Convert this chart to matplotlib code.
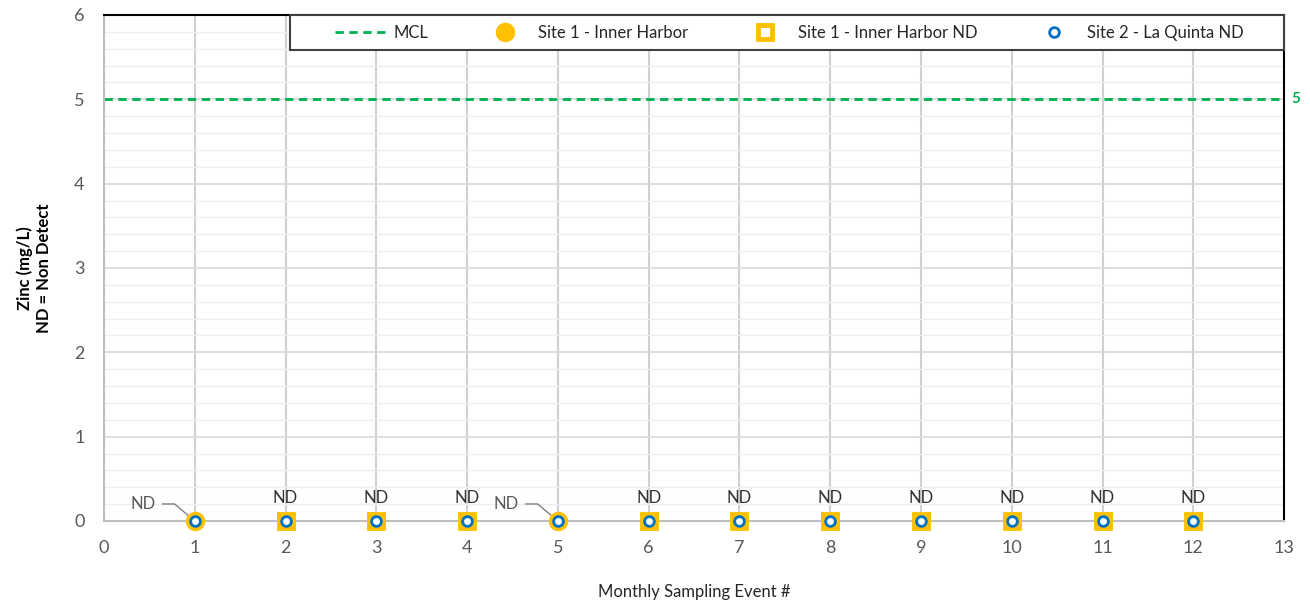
import matplotlib.pyplot as plt
from matplotlib.ticker import MultipleLocator
from matplotlib.patches import Rectangle

plt.rcParams['font.family'] = ['Lato', 'DejaVu Sans']

# data
events = [1, 2, 3, 4, 5, 6, 7, 8, 9, 10, 11, 12]
site1_det_events = [1, 5]
site1_det_vals = [0.0, 0.0]
site1_nd_events = [2, 3, 4, 6, 7, 8, 9, 10, 11, 12]
site1_nd_vals = [0, 0, 0, 0, 0, 0, 0, 0, 0, 0]
site2_nd_vals = [0, 0, 0, 0, 0, 0, 0, 0, 0, 0, 0, 0]
mcl = 5
xticks = list(range(0, 14))
yticks = [0, 1, 2, 3, 4, 5, 6]

orange = '#FFC000'
blue = '#0070C0'
green = '#00B050'
grey_txt = '#595959'

fig = plt.figure(figsize=(13.1, 6.06), dpi=100)
ax = fig.add_axes([0.0794, 0.1403, 0.9008, 0.8350])

ax.set_xlim(0, 13)
ax.set_ylim(0, 6)
ax.set_xticks(xticks)
ax.set_yticks(yticks)
ax.yaxis.set_minor_locator(MultipleLocator(0.2))
ax.grid(axis='x', which='major', color='#d0d0d0', lw=1.5)
ax.grid(axis='y', which='major', color='#d9d9d9', lw=1.2)
ax.grid(axis='y', which='minor', color='#eeeeee', lw=1.0)
ax.set_axisbelow(True)
ax.tick_params(which='both', length=0, labelsize=13, colors=grey_txt)
ax.tick_params(axis='x', pad=14)
ax.tick_params(axis='y', pad=14)

for s in ['left', 'bottom']:
    ax.spines[s].set_color('#bfbfbf')
    ax.spines[s].set_linewidth(1.5)
for s in ['top', 'right']:
    ax.spines[s].set_color('black')
    ax.spines[s].set_linewidth(1.5)

ax.axhline(mcl, color=green, ls=(0, (3, 2)), lw=2, label='MCL', zorder=2)
ax.text(1.006, mcl, str(mcl), transform=ax.get_yaxis_transform(), color=green,
        fontsize=11, fontweight='bold', va='center', ha='left')

ax.plot(site1_det_events, site1_det_vals, 'o', ms=13, color=orange, mec=orange,
        ls='none', label='Site 1 - Inner Harbor', zorder=4, clip_on=False)
ax.plot(site1_nd_events, site1_nd_vals, 's', ms=10, mfc='white', mec=orange, mew=3.5,
        ls='none', label='Site 1 - Inner Harbor ND', zorder=4, clip_on=False)
ax.plot(events, site2_nd_vals, 'o', ms=7, mfc='white', mec=blue, mew=2,
        ls='none', label='Site 2 - La Quinta ND', zorder=5, clip_on=False)

for x, v in zip(site1_nd_events, site1_nd_vals):
    ax.annotate('ND', (x, v), xytext=(0, 15), textcoords='offset pixels',
                ha='center', va='bottom', fontsize=12, color='#333333')
for x, v in zip(site1_det_events, site1_det_vals):
    ax.annotate('ND', (x, v), xytext=(-52, 17), textcoords='offset pixels',
                ha='center', va='center', fontsize=12, color=grey_txt,
                arrowprops=dict(arrowstyle='-', color='#808080', lw=1,
                                shrinkA=3, shrinkB=2,
                                connectionstyle='angle,angleA=0,angleB=140,rad=0'))

ax.set_xlabel('Monthly Sampling Event #', fontsize=12, color='#262626', labelpad=20)
ax.set_ylabel('Zinc (mg/L)\nND = Non Detect', fontsize=12, fontweight='bold',
              color='black', labelpad=16)

# legend frame
ax.add_patch(Rectangle((0.1576, 0.931), 0.8424, 0.069, transform=ax.transAxes,
                       facecolor='white', edgecolor='#404040', lw=1.5,
                       zorder=6, clip_on=False))
leg = ax.legend(loc='center left', bbox_to_anchor=(0.1958, 0.9644, 0.770, 0.0), mode='expand',
                ncol=4, fontsize=12, frameon=False, borderaxespad=0, borderpad=0,
                handlelength=3, handletextpad=0.5)
leg.set_zorder(7)
for t in leg.get_texts():
    t.set_color('#262626')

fig.savefig('out.png', dpi=100, facecolor='white')
